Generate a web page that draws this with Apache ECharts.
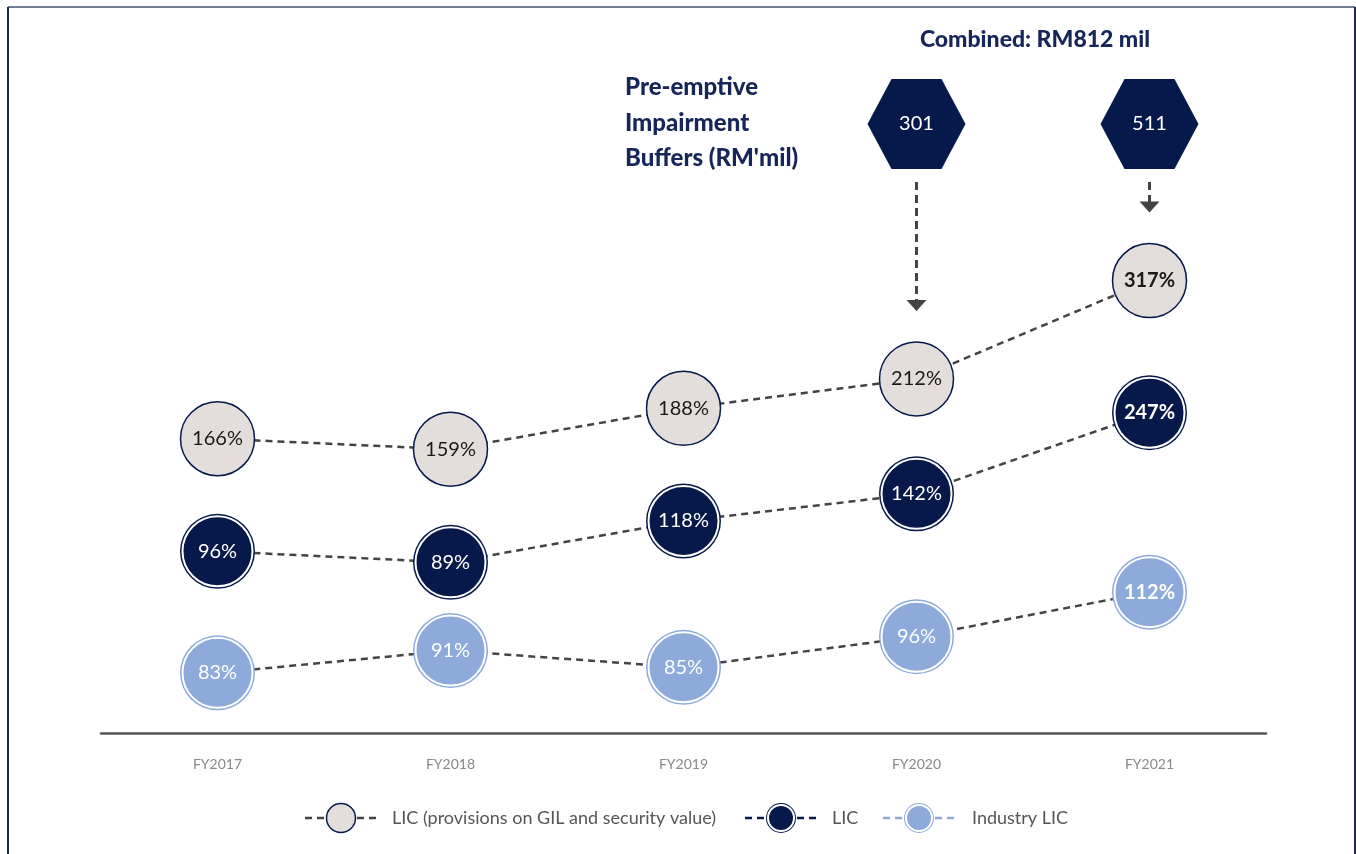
<!DOCTYPE html>
<html><head><meta charset="utf-8">
<script src="https://cdn.jsdelivr.net/npm/echarts@6/dist/echarts.min.js"></script>
<style>html,body{margin:0;padding:0;background:#fff}#c{width:1356px;height:854px}</style>
</head><body><div id="c"></div>
<script>
// ---- data ----
const categories = ['FY2017', 'FY2018', 'FY2019', 'FY2020', 'FY2021'];
const licProvisions = [166, 159, 188, 212, 317];
const lic = [96, 89, 118, 142, 247];
const industryLic = [83, 91, 85, 96, 112];
const buffers = [null, null, null, 301, 511];
const seriesNames = ['LIC (provisions on GIL and security value)', 'LIC', 'Industry LIC'];
const bufferTitle = ['Pre-emptive', 'Impairment', "Buffers (RM'mil)"];

// ---- styles ----
const NAVY = '#07194b', LIGHT = '#8eaadb', GREYFILL = '#e3dedb', DASH = '#444444', TITLE = '#172659';
const FONT = 'Lato, "Noto Sans", sans-serif';
const combinedTotal = buffers.reduce((a, b) => a + (b || 0), 0);

const chart = echarts.init(document.getElementById('c'), null, {renderer: 'canvas'});

const defs = [
  {name: seriesNames[0], data: licProvisions, y: 0, fill: GREYFILL, ring: null, text: '#1a1a1a', dash: DASH},
  {name: seriesNames[1], data: lic, y: 1, fill: NAVY, ring: NAVY, text: '#ffffff', dash: NAVY},
  {name: seriesNames[2], data: industryLic, y: 2, fill: LIGHT, ring: LIGHT, text: '#ffffff', dash: LIGHT}
];
const series = [];
defs.forEach(d => {
  series.push({type: 'line', name: d.name, xAxisIndex: 0, yAxisIndex: d.y,
    data: d.data.map((v, i) => [i, v]), symbol: 'none', silent: true, z: 2,
    lineStyle: {color: DASH, width: 2.5, type: [7, 5]}});
  if (d.ring) series.push({type: 'scatter', xAxisIndex: 0, yAxisIndex: d.y, silent: true, z: 3,
    data: d.data.map((v, i) => [i, v]), symbol: 'circle', symbolSize: 75,
    itemStyle: {color: d.ring, opacity: 1}});
  series.push({type: 'scatter', xAxisIndex: 0, yAxisIndex: d.y, silent: true, z: 4,
    data: d.data.map((v, i) => ({value: [i, v], label: {fontWeight: i === d.data.length - 1 ? 'bold' : 'normal'}})),
    symbol: 'circle', symbolSize: d.ring ? 70 : 74,
    itemStyle: {color: d.fill, opacity: 1, borderColor: d.ring ? '#ffffff' : NAVY, borderWidth: d.ring ? 2 : 1.5},
    label: {show: true, position: 'inside', formatter: p => p.value[1] + '%', color: d.text, fontSize: 20, fontFamily: FONT}});
});
// hexagon buffers
series.push({type: 'scatter', xAxisIndex: 1, yAxisIndex: 3, silent: true, z: 5,
  data: buffers.map((v, i) => v == null ? null : [i, 0, v]).filter(Boolean),
  symbol: 'path://M0,45 L24,0 L74,0 L98,45 L74,90 L24,90 Z', symbolSize: [98, 90],
  itemStyle: {color: NAVY, opacity: 1},
  label: {show: true, position: 'inside', formatter: p => String(p.value[2]), color: '#ffffff', fontSize: 20, fontFamily: FONT}});

chart.setOption({
  animation: false,
  backgroundColor: '#ffffff',
  grid: [
    {left: 101, right: 90, top: 240, bottom: 121},
    {left: 101, right: 90, top: 79, height: 90}
  ],
  xAxis: [
    {type: 'category', gridIndex: 0, data: categories,
      axisLine: {lineStyle: {color: '#555555', width: 2.5}}, axisTick: {show: false},
      axisLabel: {color: '#888888', fontSize: 14, margin: 24, fontFamily: FONT}, splitLine: {show: false}},
    {type: 'category', gridIndex: 1, data: categories, show: false}
  ],
  yAxis: [
    {type: 'log', gridIndex: 0, min: 49.8, max: 374.2, show: false},
    {type: 'log', gridIndex: 0, min: 27.8, max: 802, show: false},
    {type: 'value', gridIndex: 0, min: 61.4, max: 238.5, show: false},
    {type: 'category', gridIndex: 1, data: ['b'], show: false}
  ],
  series: series
});

// ---- decorations ----
const g = [];
// frame
g.push({type: 'line', shape: {x1: 8, y1: 7, x2: 1355, y2: 7}, style: {stroke: '#6f7c92', lineWidth: 2}});
g.push({type: 'line', shape: {x1: 8, y1: 7, x2: 8, y2: 854}, style: {stroke: '#1f2a55', lineWidth: 2}});
g.push({type: 'line', shape: {x1: 1355, y1: 7, x2: 1355, y2: 854}, style: {stroke: '#1f2a55', lineWidth: 2}});
// titles
g.push({type: 'text', x: 1035, y: 40, style: {text: 'Combined: RM' + combinedTotal + ' mil', fill: TITLE,
  font: '900 23px ' + FONT, align: 'center', verticalAlign: 'middle'}});
g.push({type: 'text', x: 625, y: 70, style: {text: bufferTitle.join('\n'), fill: TITLE, lineHeight: 35.5,
  font: '900 24px ' + FONT, align: 'left', verticalAlign: 'top'}});
// arrows
buffers.forEach((v, i) => {
  if (v == null) return;
  const hex = chart.convertToPixel({xAxisIndex: 1, yAxisIndex: 3}, [i, 0]);
  const pt = chart.convertToPixel({xAxisIndex: 0, yAxisIndex: 0}, [i, licProvisions[i]]);
  const x = hex[0], y0 = hex[1] + 58, tip = pt[1] - 68;
  g.push({type: 'line', shape: {x1: x, y1: y0, x2: x, y2: tip - 9}, style: {stroke: DASH, lineWidth: 3, lineDash: [8, 5]}});
  g.push({type: 'polygon', shape: {points: [[x - 10, tip - 11], [x + 10, tip - 11], [x, tip]]}, style: {fill: DASH}});
});
// legend
const legIcon = [305, 745, 883], legText = [392, 832, 972], ly = 818;
defs.forEach((d, k) => {
  const x0 = legIcon[k];
  g.push({type: 'line', shape: {x1: x0, y1: ly, x2: x0 + 20, y2: ly}, style: {stroke: d.dash, lineWidth: 2.5, lineDash: [7, 5]}});
  g.push({type: 'line', shape: {x1: x0 + 52, y1: ly, x2: x0 + 74, y2: ly}, style: {stroke: d.dash, lineWidth: 2.5, lineDash: [7, 5]}});
  if (d.ring) {
    g.push({type: 'circle', shape: {cx: x0 + 36, cy: ly, r: 15}, style: {fill: d.ring}});
    g.push({type: 'circle', shape: {cx: x0 + 36, cy: ly, r: 13}, style: {fill: d.fill, stroke: '#ffffff', lineWidth: 2}});
  } else {
    g.push({type: 'circle', shape: {cx: x0 + 36, cy: ly, r: 14.5}, style: {fill: d.fill, stroke: NAVY, lineWidth: 1.5}});
  }
  g.push({type: 'text', x: legText[k], y: ly, style: {text: d.name, fill: '#555555', font: '18px ' + FONT,
    align: 'left', verticalAlign: 'middle'}});
});
chart.setOption({graphic: g});
</script></body></html>
